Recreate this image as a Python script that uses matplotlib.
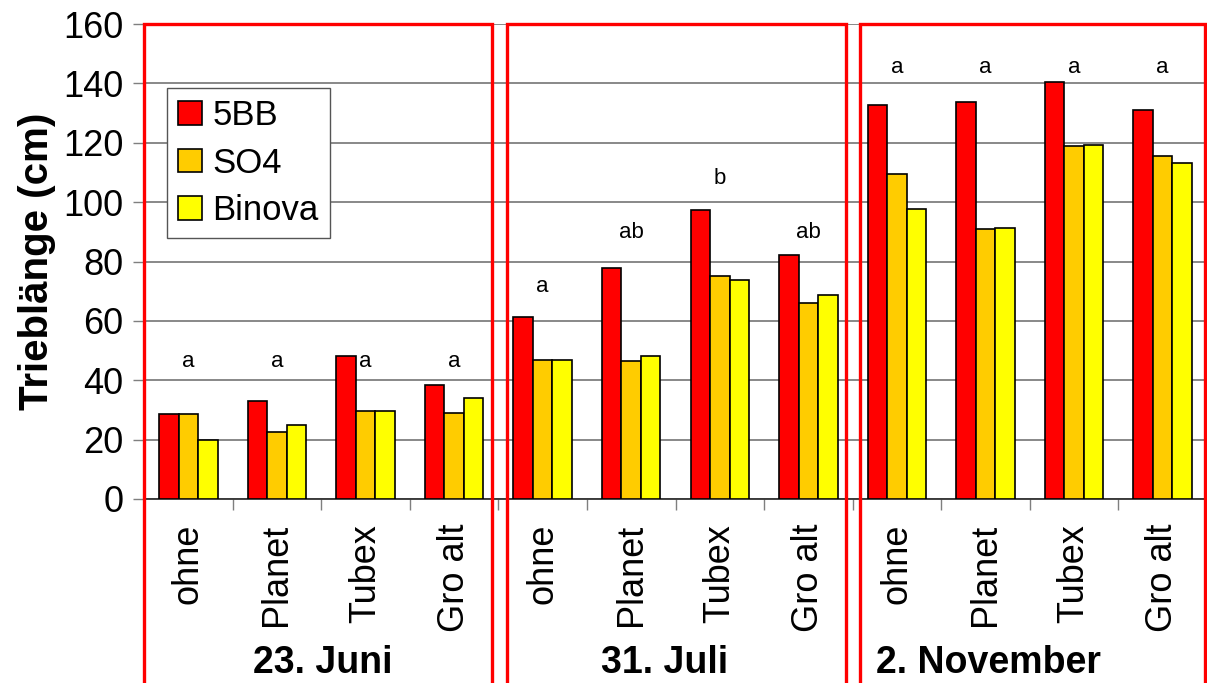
import matplotlib
matplotlib.use("Agg")
import matplotlib.pyplot as plt
from matplotlib.patches import Rectangle, Patch
from matplotlib.transforms import blended_transform_factory
import numpy as np

# --- data -------------------------------------------------------------
dates = ["23. Juni", "31. Juli", "2. November"]
treatments = ["ohne", "Planet", "Tubex", "Gro alt"]
series_names = ["5BB", "SO4", "Binova"]

vals_5bb = [28.5, 33.1, 48.3, 38.5,
            61.4, 77.9, 97.2, 82.2,
            132.7, 133.7, 140.5, 131.0]
vals_so4 = [28.5, 22.7, 29.7, 29.0,
            46.7, 46.4, 75.0, 66.1,
            109.6, 91.0, 119.0, 115.6]
vals_binova = [19.9, 24.9, 29.7, 34.0,
               46.9, 48.3, 73.8, 68.7,
               97.7, 91.4, 119.3, 113.3]

sig_letters = ["a", "a", "a", "a",
               "a", "ab", "b", "ab",
               "a", "a", "a", "a"]
sig_levels = [46.2, 46.2, 46.2, 46.2,
              71.7, 89.7, 108.0, 89.7,
              145.3, 145.3, 145.3, 145.3]

y_ticks = [0, 20, 40, 60, 80, 100, 120, 140, 160]

# --- style ------------------------------------------------------------
plt.rcParams["font.family"] = ["Liberation Sans", "DejaVu Sans"]
colors = ["#FF0000", "#FFCC00", "#FFFF00"]
grid_col = "#7f7f7f"

W, H = 1207, 683
fig = plt.figure(figsize=(W / 100, H / 100), dpi=100)
ax = fig.add_axes([144 / W, 1 - 499 / H, (W - 144) / W, (499 - 24) / H])

labels = [t for _ in dates for t in treatments]
x = np.arange(len(labels))
bw = 0.22
for k, (vals, col, name) in enumerate(zip([vals_5bb, vals_so4, vals_binova],
                                          colors, series_names)):
    ax.bar(x + (k - 1) * bw, vals, width=bw, color=col, edgecolor="black",
           linewidth=1.2, label=name, zorder=3)

for xi, letter, lev in zip(x, sig_letters, sig_levels):
    ax.text(xi, lev, letter, ha="center", va="center", fontsize=16, zorder=4)

ax.set_xlim(-0.5, len(labels) - 0.5)
ax.set_ylim(0, 160)
ax.set_yticks(y_ticks)
ax.yaxis.grid(True, color=grid_col, linewidth=1.3)
ax.set_axisbelow(True)
ax.tick_params(axis="y", direction="out", length=8, width=1, color=grid_col,
               labelsize=26, pad=7)

# boundary ticks between categories, labels centred on each category
ax.set_xticks(np.arange(-0.5, len(labels), 1.0))
ax.set_xticklabels([])
ax.tick_params(axis="x", which="major", direction="out", length=8, width=1,
               color=grid_col)
ax.set_xticks(x, minor=True)
ax.set_xticklabels(labels, minor=True, rotation=90, fontsize=26, va="top",
                   ha="center")
ax.tick_params(axis="x", which="minor", length=0, pad=18)

for side in ("top", "right"):
    ax.spines[side].set_visible(False)
ax.spines["left"].set_color(grid_col)
ax.spines["bottom"].set_color("#333333")
ax.spines["bottom"].set_linewidth(1.3)

ax.set_ylabel("Trieblänge (cm)", fontsize=29, fontweight="bold", labelpad=5)

# date headings under each block of four treatments
trans = blended_transform_factory(ax.transData, fig.transFigure)
for xc, d in zip([1.52, 5.38, 9.03], dates):
    ax.text(xc, 1 - 663 / H, d, transform=trans, ha="center", va="center",
            fontsize=27, fontweight="bold")

# red frames around each date block (open towards the bottom edge)
frames = [(-0.5, 3.43), (3.60, 7.42), (7.58, 11.475)]
for x0, x1 in frames:
    ax.add_patch(Rectangle((x0, -150), x1 - x0, 310, fill=False,
                           edgecolor="#FF0000", linewidth=2.4,
                           clip_on=False, zorder=5))

handles = [Patch(facecolor=c, edgecolor="black", linewidth=1.2) for c in colors]
leg = ax.legend(handles, series_names, loc="upper left",
                bbox_to_anchor=(167 / W, 1 - 88 / H),
                bbox_transform=fig.transFigure, borderaxespad=0,
                fontsize=25, handlelength=0.68, handleheight=0.68,
                handletextpad=0.3, labelspacing=0.42, borderpad=0.32,
                frameon=True, fancybox=False, framealpha=1)
leg.get_frame().set_edgecolor("#555555")
leg.get_frame().set_linewidth(1.0)
leg.set_zorder(6)

fig.savefig("out.png", dpi=100)
